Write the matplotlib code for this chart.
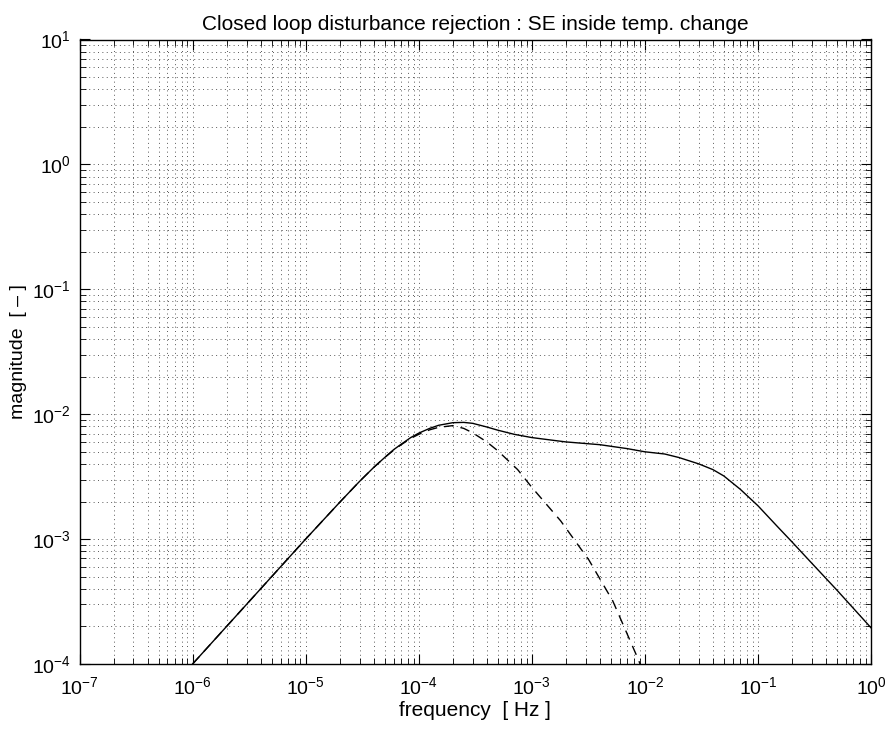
import matplotlib.pyplot as plt
from matplotlib.ticker import LogLocator, LogFormatterMathtext, NullFormatter

plt.rcParams["font.family"] = ["Liberation Sans", "DejaVu Sans"]
plt.rcParams["mathtext.fontset"] = "custom"
plt.rcParams["mathtext.rm"] = "Liberation Sans"
plt.rcParams["mathtext.it"] = "Liberation Sans:italic"
plt.rcParams["mathtext.default"] = "regular"

# closed loop response (solid)
freq_full = [1e-6, 2e-6, 5e-6, 1e-5, 2e-5, 3e-5, 4e-5, 5e-5, 6e-5, 7e-5, 8.5e-5,
             1e-4, 1.25e-4, 1.5e-4, 2e-4, 2.5e-4, 3e-4, 4e-4, 5e-4, 7e-4, 1e-3,
             1.5e-3, 2e-3, 4e-3, 7e-3, 1e-2, 1.5e-2, 2e-2, 3e-2, 4e-2, 5e-2, 7e-2,
             1e-1, 1.5e-1, 2e-1, 3e-1, 5e-1, 1.0]
mag_full = [1.0e-4, 2.0e-4, 5.0e-4, 1.0e-3, 1.97e-3, 2.9e-3, 3.75e-3, 4.5e-3, 5.2e-3,
            5.75e-3, 6.5e-3, 7.05e-3, 7.7e-3, 8.15e-3, 8.55e-3, 8.6e-3, 8.45e-3,
            7.9e-3, 7.45e-3, 6.9e-3, 6.5e-3, 6.2e-3, 6.0e-3, 5.7e-3, 5.3e-3, 5.0e-3,
            4.8e-3, 4.5e-3, 4.0e-3, 3.6e-3, 3.2e-3, 2.5e-3, 1.85e-3, 1.25e-3, 9.5e-4,
            6.4e-4, 3.9e-4, 1.95e-4]

# dashed response
freq_dash = [1e-6, 2e-6, 5e-6, 1e-5, 2e-5, 3e-5, 4e-5, 5e-5, 6e-5, 7e-5, 8.5e-5,
             1e-4, 1.25e-4, 1.5e-4, 2e-4, 2.5e-4, 3e-4, 4e-4, 5e-4, 7.5e-4, 1e-3,
             1.8e-3, 3.2e-3, 5.2e-3, 8.7e-3, 1e-2]
mag_dash = [1.0e-4, 2.0e-4, 5.0e-4, 1.0e-3, 1.97e-3, 2.9e-3, 3.75e-3, 4.5e-3, 5.15e-3,
            5.7e-3, 6.4e-3, 6.9e-3, 7.5e-3, 7.85e-3, 8.1e-3, 7.7e-3, 7.1e-3, 6.0e-3,
            5.1e-3, 3.6e-3, 2.6e-3, 1.4e-3, 6.8e-4, 3.2e-4, 1.1e-4, 8e-5]

fig = plt.figure(figsize=(8.92, 7.31), dpi=100)
ax = fig.add_axes([79.5 / 892, 1 - 664 / 731, (871 - 79.5) / 892, (664 - 39.5) / 731])

ax.loglog(freq_full, mag_full, color="black", lw=1.0)
ax.loglog(freq_dash, mag_dash, color="black", lw=1.0, linestyle=(0, (7, 5)))

ax.set_xlim(1e-7, 1e0)
ax.set_ylim(1e-4, 1e1)

ax.xaxis.set_major_locator(LogLocator(base=10, numticks=20))
ax.yaxis.set_major_locator(LogLocator(base=10, numticks=20))
ax.xaxis.set_minor_locator(LogLocator(base=10, subs=range(2, 10), numticks=100))
ax.yaxis.set_minor_locator(LogLocator(base=10, subs=range(2, 10), numticks=100))
ax.xaxis.set_major_formatter(LogFormatterMathtext())
ax.yaxis.set_major_formatter(LogFormatterMathtext())
ax.xaxis.set_minor_formatter(NullFormatter())
ax.yaxis.set_minor_formatter(NullFormatter())

# sparse dotted grid, matlab style
ax.grid(True, which="both", color="0.35", linestyle=(0, (1, 3.5)), lw=0.7)
ax.tick_params(which="both", direction="in", top=True, right=True, labelsize=14)
ax.tick_params(which="major", length=7, width=0.8)
ax.tick_params(which="minor", length=4, width=0.6)
ax.tick_params(axis="x", which="major", pad=9)
ax.tick_params(axis="y", which="major", pad=6)
for sp in ax.spines.values():
    sp.set_linewidth(1.0)

ax.set_title("Closed loop disturbance rejection : SE inside temp. change", fontsize=15, pad=7)
ax.set_xlabel("frequency  [ Hz ]", fontsize=15, labelpad=2)
ax.set_ylabel("magnitude  [ \u2013 ]", fontsize=14, labelpad=4)

plt.savefig("out.png", dpi=100)
